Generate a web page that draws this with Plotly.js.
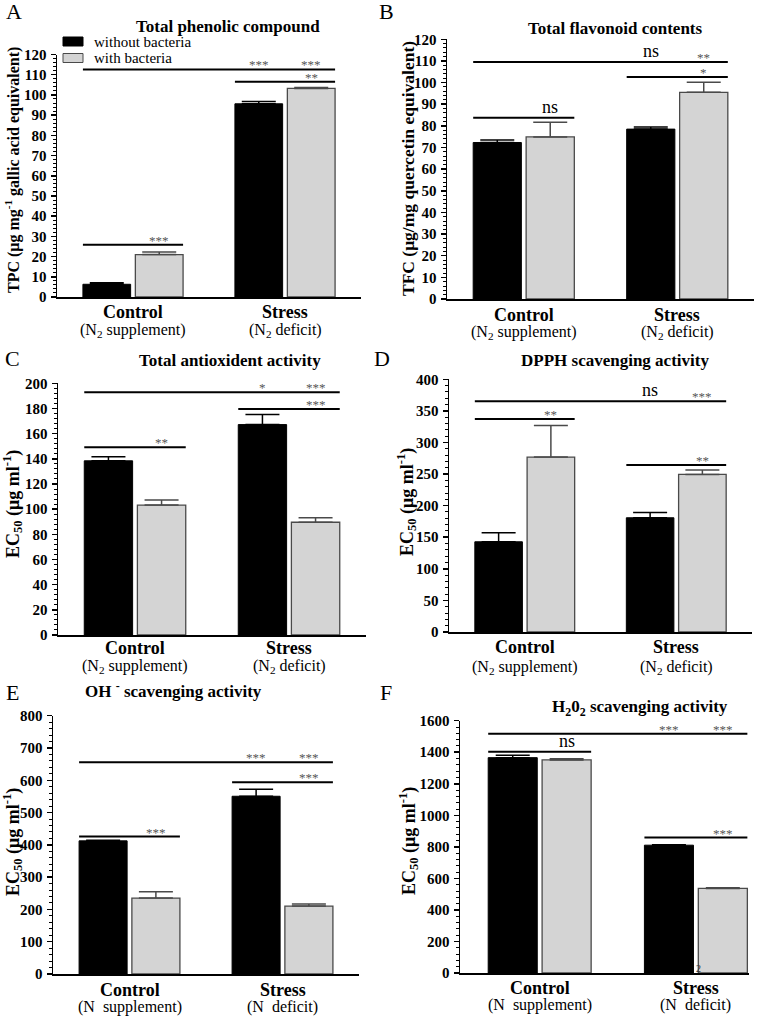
<!doctype html>
<html lang="en">
<head>
<meta charset="UTF-8" />
<title>Phenolics, flavonoids and antioxidant activity</title>
<script src="https://cdn.plot.ly/plotly-3.0.1.min.js"></script>
<style>
    body { margin: 0; background: white; }
    #chart { width: 776px; height: 1019px; }
</style>
</head>
<body>
<div id="chart"></div>
<script>
// groups on the x axis
const categories = ["Control", "Stress"];
const conditionsN2 = ["(N<sub>2</sub> supplement)", "(N<sub>2</sub> deficit)"];
const conditionsN = ["(N\u00a0\u00a0supplement)", "(N\u00a0\u00a0deficit)"];
const seriesNames = ["without bacteria", "with bacteria"];

// significance bars: bars are numbered 0..3
// (control-without, control-with, stress-without, stress-with)

// A: total phenolic compound
const tpcWithout = [6.3, 95.6];
const tpcWithoutErr = [0.8, 1.1];
const tpcWith = [21.0, 103.2];
const tpcWithErr = [1.3, 0.5];
const tpcSig = [
    { from: 0, to: 3, y: 112.6, marks: [[2, "***"], [3, "***"]] },
    { from: 2, to: 3, y: 106.5, marks: [[3, "**"]] },
    { from: 0, to: 1, y: 25.9, marks: [[1, "***"]] },
];

// B: total flavonoid contents
const tfcWithout = [72.3, 78.5];
const tfcWithoutErr = [1.2, 1.0];
const tfcWith = [74.9, 95.5];
const tfcWithErr = [6.8, 4.7];
const tfcSig = [
    { from: 0, to: 3, y: 109.5, marks: [[2, "ns"], [3, "**"]] },
    { from: 2, to: 3, y: 102.6, marks: [[3, "*"]] },
    { from: 0, to: 1, y: 83.8, marks: [[1, "ns"]] },
];

// C: total antioxidant activity
const taaWithout = [138.4, 167.2];
const taaWithoutErr = [3.2, 8.0];
const taaWith = [103.2, 89.6];
const taaWithErr = [4.0, 3.5];
const taaSig = [
    { from: 0, to: 3, y: 192.8, marks: [[2, "*"], [3, "***"]] },
    { from: 2, to: 3, y: 179.5, marks: [[3, "***"]] },
    { from: 0, to: 1, y: 149.1, marks: [[1, "**"]] },
];

// D: DPPH scavenging activity
const dpphWithout = [142.8, 180.8];
const dpphWithoutErr = [14.2, 8.4];
const dpphWith = [276.9, 249.4];
const dpphWithErr = [50.0, 6.9];
const dpphSig = [
    { from: 0, to: 3, y: 365.1, marks: [[2, "ns"], [3, "***"]] },
    { from: 0, to: 1, y: 337.1, marks: [[1, "**"]] },
    { from: 2, to: 3, y: 264.2, marks: [[3, "**"]] },
];

// E: OH- scavenging activity
const ohWithout = [412.4, 550.5];
const ohWithoutErr = [2.0, 21.7];
const ohWith = [235.0, 210.3];
const ohWithErr = [19.6, 6.2];
const ohSig = [
    { from: 0, to: 3, y: 655.7, marks: [[2, "***"], [3, "***"]] },
    { from: 2, to: 3, y: 593.8, marks: [[3, "***"]] },
    { from: 0, to: 1, y: 425.8, marks: [[1, "***"]] },
];

// F: H2O2 scavenging activity
const h2o2Without = [1365.7, 810.6];
const h2o2WithoutErr = [15, 3];
const h2o2With = [1351, 536.3];
const h2o2WithErr = [8, 4];
const h2o2Sig = [
    { from: 0, to: 3, y: 1517.7, marks: [[2, "***"], [3, "***"]] },
    { from: 0, to: 1, y: 1403.7, marks: [[1, "ns"]] },
    { from: 2, to: 3, y: 859.2, marks: [[3, "***"]] },
];

const W = 776, H = 1019;
const SERIF = "Liberation Serif";
const BLACK = "#000000";
const GRAY = "#d4d4d4";
const GRAY_EDGE = "#4a4a4a";
const BARGAP = 0.31, GROUPGAP = 0.09;
const slot = (1 - BARGAP) / 2;
const halfBar = (slot * (1 - GROUPGAP)) / 2;

function barCenter(i) {
    return Math.floor(i / 2) + (i % 2 === 0 ? -slot / 2 : slot / 2);
}
// pixel -> paper
const px = (x) => x / W;
const py = (y) => 1 - y / H;

const ec50 = "EC<sub>50</sub> (μg ml<sup>-1</sup>)";
const panels = [
    { letter: "A", title: "Total phenolic compound",
      ytitle: "TPC (μg mg<sup>-1</sup> gallic acid equivalent)", ytitleSize: 16,
      without: tpcWithout, withoutErr: tpcWithoutErr, with: tpcWith, withErr: tpcWithErr,
      sig: tpcSig, conditions: conditionsN2, ymax: 120, dtick: 10, minor: 2,
      box: [57, 361, 54.5, 297], xrange: [-0.5, 1.5],
      letterAt: [14, 12], titleAt: [228, 27], ytitleAt: [12, 170], labelY: [312, 330] },
    { letter: "B", title: "Total flavonoid contents",
      ytitle: "TFC (μg/mg quercetin equivalent)", ytitleSize: 17.5,
      without: tfcWithout, withoutErr: tfcWithoutErr, with: tfcWith, withErr: tfcWithErr,
      sig: tfcSig, conditions: conditionsN2, ymax: 120, dtick: 10, minor: 2,
      box: [447, 754, 39.3, 299], xrange: [-0.5, 1.5],
      letterAt: [386, 12], titleAt: [615, 28], ytitleAt: [408, 169], labelY: [315, 332] },
    { letter: "C", title: "Total antioxident activity",
      ytitle: ec50, ytitleSize: 18,
      without: taaWithout, withoutErr: taaWithoutErr, with: taaWith, withErr: taaWithErr,
      sig: taaSig, conditions: conditionsN2, ymax: 200, dtick: 20, minor: 4,
      box: [58, 366, 383.3, 635], xrange: [-0.5, 1.5],
      letterAt: [12, 358], titleAt: [230, 360], ytitleAt: [12, 504], labelY: [648, 666] },
    { letter: "D", title: "DPPH scavenging activity",
      ytitle: ec50, ytitleSize: 18,
      without: dpphWithout, withoutErr: dpphWithoutErr, with: dpphWith, withErr: dpphWithErr,
      sig: dpphSig, conditions: conditionsN2, ymax: 400, dtick: 50, minor: 10,
      box: [449, 752, 379.3, 632], xrange: [-0.5, 1.5],
      letterAt: [382, 358], titleAt: [615, 361], ytitleAt: [406, 502], labelY: [647, 667] },
    { letter: "E", title: "OH <sup>-</sup> scavenging activity",
      ytitle: ec50, ytitleSize: 18,
      without: ohWithout, withoutErr: ohWithoutErr, with: ohWith, withErr: ohWithErr,
      sig: ohSig, conditions: conditionsN, ymax: 800, dtick: 100, minor: 20,
      box: [53, 359, 715.7, 974], xrange: [-0.5, 1.5],
      letterAt: [12, 692], titleAt: [173, 690], ytitleAt: [12, 842], labelY: [990, 1007] },
    { letter: "F", title: "H<sub>2</sub>0<sub>2</sub> scavenging activity",
      ytitle: ec50, ytitleSize: 18,
      without: h2o2Without, withoutErr: h2o2WithoutErr, with: h2o2With, withErr: h2o2WithErr,
      sig: h2o2Sig, conditions: conditionsN, ymax: 1600, dtick: 200, minor: 40,
      box: [460, 749, 720.7, 973], xrange: [-0.51, 1.34],
      letterAt: [386, 692], titleAt: [640, 708], ytitleAt: [408, 841], labelY: [988, 1005] },
];

const data = [];
const shapes = [];
const annotations = [];
const layout = {
    width: W,
    height: H,
    margin: { l: 0, r: 0, t: 0, b: 0 },
    paper_bgcolor: "white",
    plot_bgcolor: "white",
    showlegend: false,
    barmode: "group",
    bargap: BARGAP,
    bargroupgap: GROUPGAP,
    font: { family: SERIF, color: BLACK },
};

panels.forEach((p, k) => {
    const n = k === 0 ? "" : String(k + 1);
    const xa = "x" + n, ya = "y" + n;
    const [x0, x1, yTop, yBot] = p.box;

    layout["xaxis" + n] = {
        domain: [px(x0), px(x1)],
        anchor: ya,
        range: p.xrange,
        showline: true,
        linecolor: BLACK,
        linewidth: 1.5,
        ticks: "",
        showticklabels: false,
        showgrid: false,
        zeroline: false,
        fixedrange: true,
    };
    layout["yaxis" + n] = {
        domain: [py(yBot), py(yTop)],
        anchor: xa,
        range: [0, p.ymax],
        tick0: 0,
        dtick: p.dtick,
        ticks: "outside",
        ticklen: 5,
        tickwidth: 1.5,
        tickcolor: BLACK,
        ticklabelstandoff: 1,
        tickprefix: "<b>",
        ticksuffix: "</b>",
        minor: { dtick: p.minor, ticks: "outside", ticklen: 3, tickwidth: 1, tickcolor: BLACK },
        showline: true,
        linecolor: BLACK,
        linewidth: 1.5,
        showgrid: false,
        zeroline: false,
        tickfont: { family: SERIF, size: 15, color: BLACK },
        fixedrange: true,
    };

    data.push({
        type: "bar", name: seriesNames[0], x: [0, 1], y: p.without,
        xaxis: xa, yaxis: ya,
        marker: { color: BLACK, line: { color: BLACK, width: 1 } },
        error_y: { type: "data", array: p.withoutErr, arrayminus: [0, 0], symmetric: false,
                   color: BLACK, thickness: 1.5, width: 17 },
    });
    data.push({
        type: "bar", name: seriesNames[1], x: [0, 1], y: p.with,
        xaxis: xa, yaxis: ya,
        marker: { color: GRAY, line: { color: GRAY_EDGE, width: 1.3 } },
        error_y: { type: "data", array: p.withErr, arrayminus: [0, 0], symmetric: false,
                   color: GRAY_EDGE, thickness: 1.5, width: 17 },
    });

    // significance bars
    p.sig.forEach((s) => {
        shapes.push({
            type: "line", xref: xa, yref: ya,
            x0: barCenter(s.from) - halfBar, x1: barCenter(s.to) + halfBar,
            y0: s.y, y1: s.y,
            line: { color: BLACK, width: 2 },
        });
        s.marks.forEach(([bar, txt]) => {
            const stars = txt !== "ns";
            annotations.push({
                xref: xa, yref: ya, x: barCenter(bar), y: s.y,
                text: txt, showarrow: false, xanchor: "center", yanchor: "bottom",
                yshift: stars ? -5 : -1,
                font: { family: SERIF, size: stars ? 13 : 18, color: stars ? "#555555" : BLACK },
            });
        });
    });

    // group labels under the axis
    categories.forEach((c, i) => {
        annotations.push({
            xref: xa, yref: "paper", x: i, y: py(p.labelY[0]),
            text: "<b>" + c + "</b>", showarrow: false, xanchor: "center", yanchor: "middle",
            font: { family: SERIF, size: 18, color: BLACK },
        });
        annotations.push({
            xref: xa, yref: "paper", x: i, y: py(p.labelY[1]),
            text: p.conditions[i], showarrow: false, xanchor: "center", yanchor: "middle",
            font: { family: SERIF, size: 16, color: BLACK },
        });
    });

    annotations.push({
        xref: "paper", yref: "paper", x: px(p.titleAt[0]), y: py(p.titleAt[1]),
        text: "<b>" + p.title + "</b>", showarrow: false, xanchor: "center", yanchor: "middle",
        font: { family: SERIF, size: 17, color: BLACK },
    });
    annotations.push({
        xref: "paper", yref: "paper", x: px(p.ytitleAt[0]), y: py(p.ytitleAt[1]),
        text: "<b>" + p.ytitle + "</b>", showarrow: false, textangle: -90,
        xanchor: "center", yanchor: "middle",
        font: { family: SERIF, size: p.ytitleSize, color: BLACK },
    });
    annotations.push({
        xref: "paper", yref: "paper", x: px(p.letterAt[0]), y: py(p.letterAt[1]),
        text: p.letter, showarrow: false, xanchor: "center", yanchor: "middle",
        font: { family: SERIF, size: 22, color: BLACK },
    });
});

// legend (panel A)
const legendFills = [BLACK, GRAY];
const legendEdges = [BLACK, GRAY_EDGE];
seriesNames.forEach((name, i) => {
    const top = 37 + i * 16.5;
    shapes.push({
        type: "rect", xref: "paper", yref: "paper",
        x0: px(63), x1: px(83), y0: py(top + 9), y1: py(top),
        fillcolor: legendFills[i], line: { color: legendEdges[i], width: 1 },
    });
    annotations.push({
        xref: "paper", yref: "paper", x: px(92), y: py(top + 5),
        text: name, showarrow: false, xanchor: "left", yanchor: "middle",
        font: { family: SERIF, size: 15, color: BLACK },
    });
});

// stray subscript left over in panel F
annotations.push({
    xref: "paper", yref: "paper", x: px(698), y: py(968),
    text: "2", showarrow: false, xanchor: "center", yanchor: "middle",
    font: { family: SERIF, size: 10, color: "#333333" },
});

layout.shapes = shapes;
layout.annotations = annotations;

Plotly.newPlot("chart", data, layout, { staticPlot: true });
</script>
</body>
</html>
